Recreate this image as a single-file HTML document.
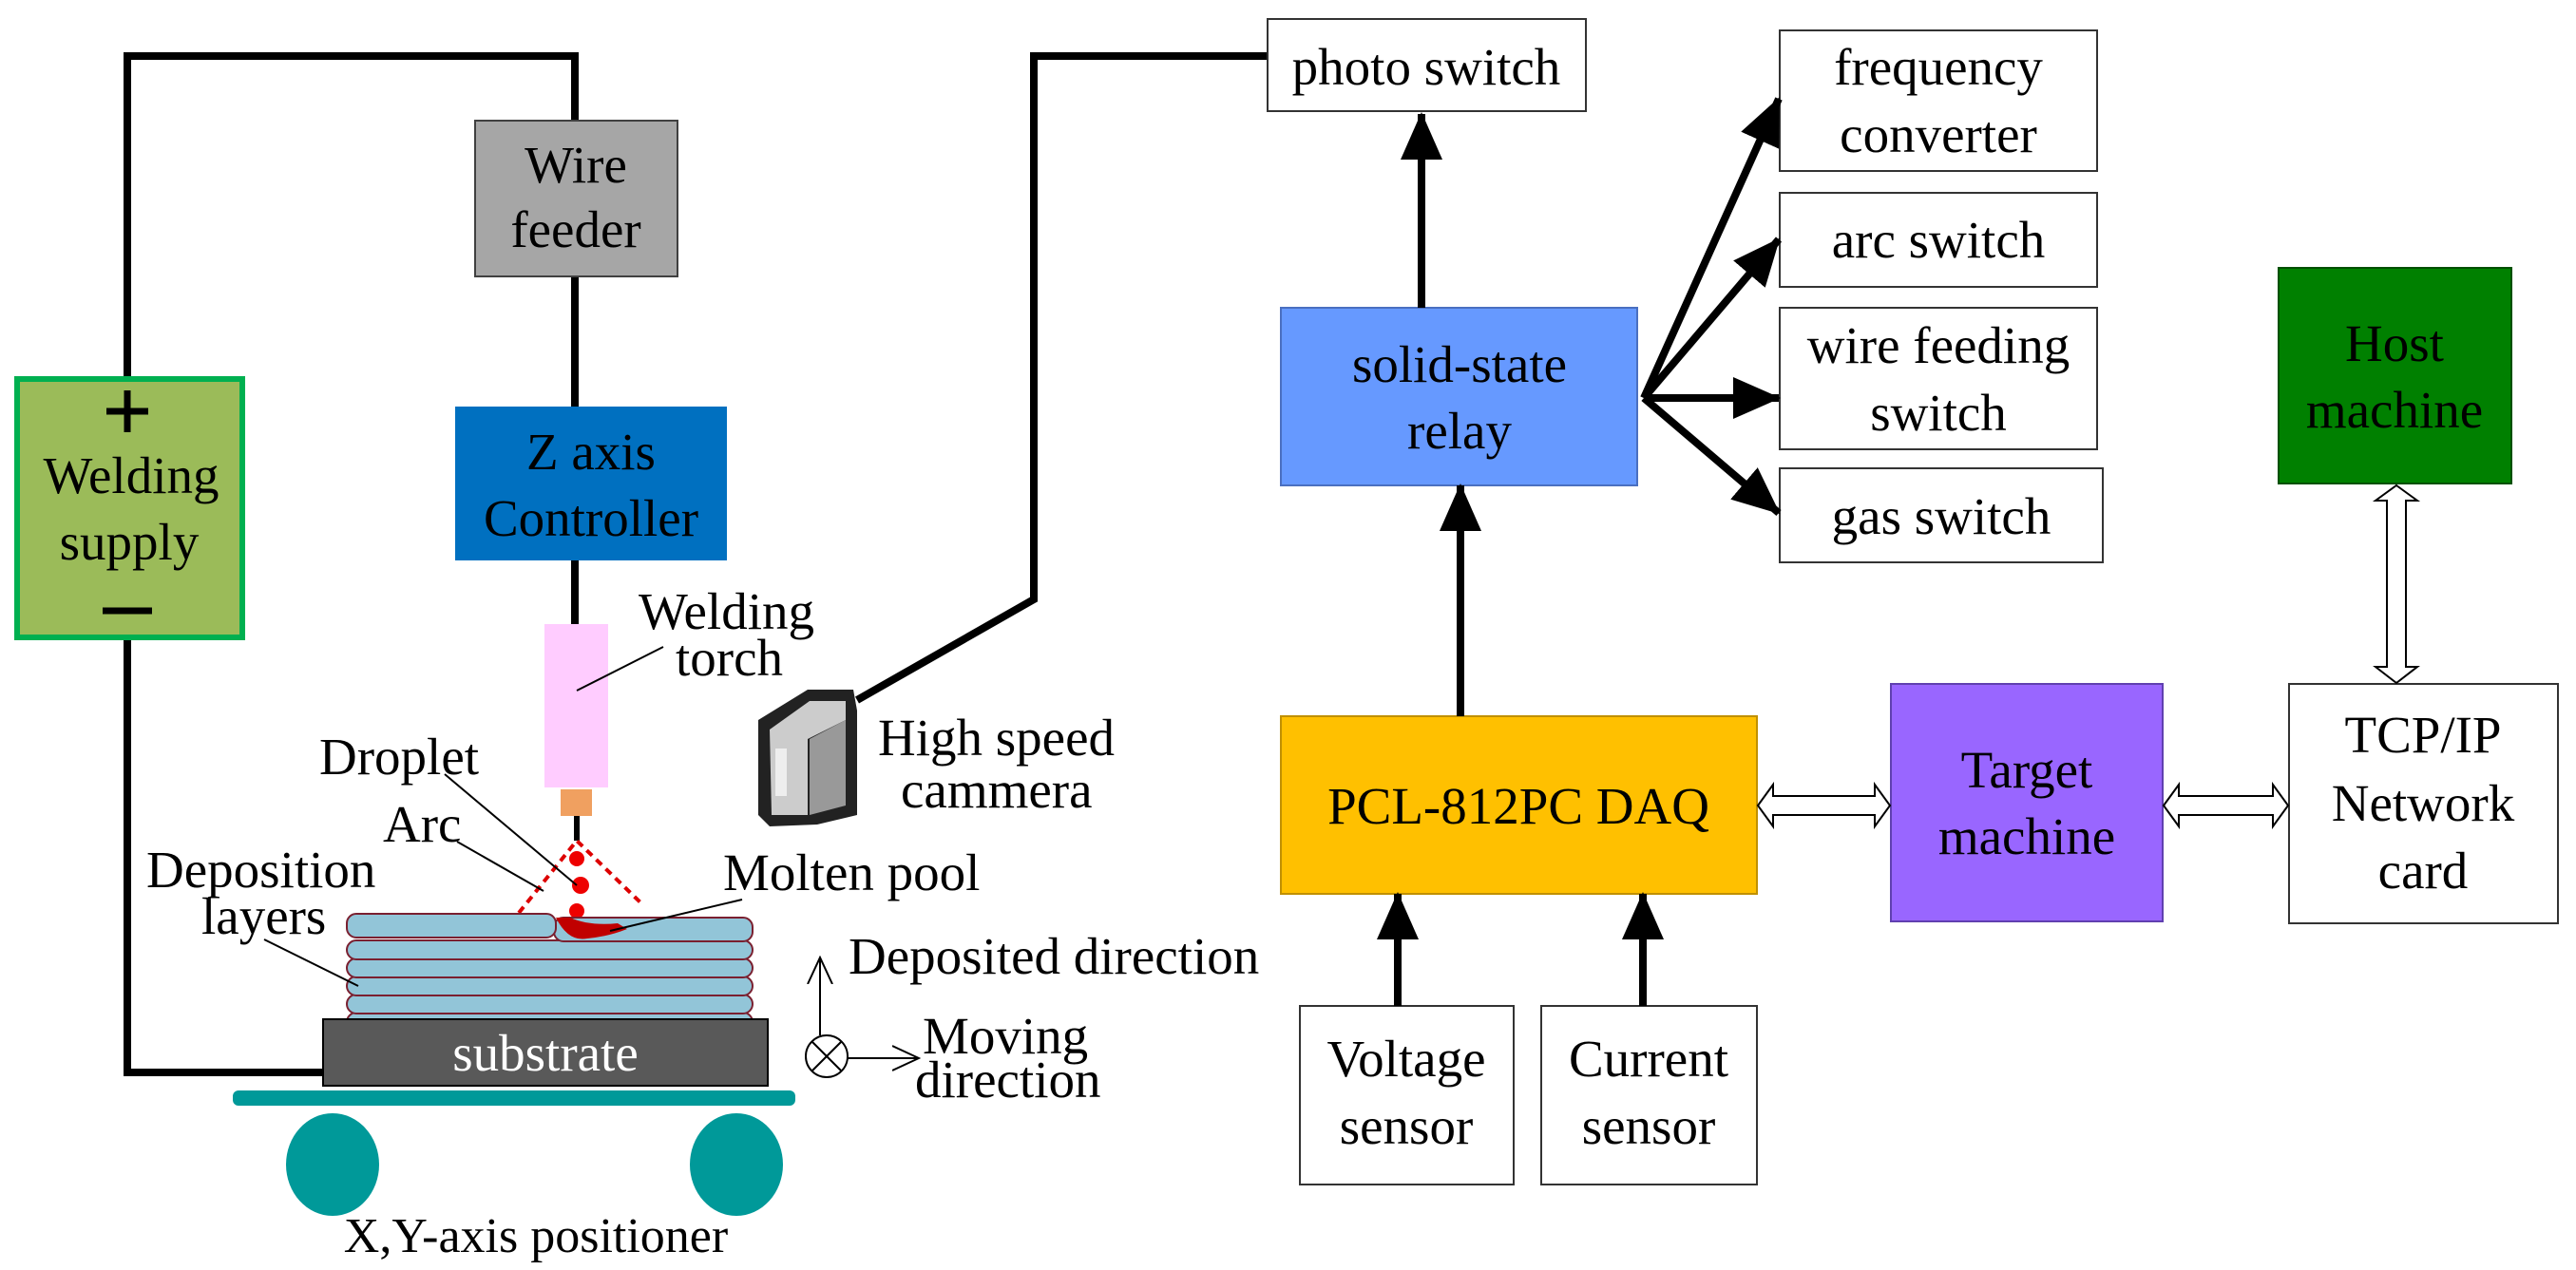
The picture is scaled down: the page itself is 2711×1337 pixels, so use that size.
<!DOCTYPE html>
<html><head><meta charset="utf-8"><style>
html,body{margin:0;padding:0;background:#fff}
svg{display:block}
text{font-family:"Liberation Serif",serif;font-size:55px;fill:#000}
</style></head><body>
<svg width="2711" height="1337" viewBox="0 0 2711 1337" xmlns="http://www.w3.org/2000/svg">
<defs>
<marker id="ah" markerUnits="userSpaceOnUse" markerWidth="50" markerHeight="44" refX="48" refY="22" orient="auto">
<path d="M0,0 L50,22 L0,44 Z" fill="#000"/></marker>
<marker id="oa" markerUnits="userSpaceOnUse" markerWidth="30" markerHeight="30" refX="28" refY="15" orient="auto">
<path d="M0,2 L28,15 L0,28" fill="none" stroke="#000" stroke-width="2"/></marker>
</defs>

<polyline points="134,397 134,59 605,59 605,127" fill="none" stroke="#000" stroke-width="8"/>
<line x1="605" y1="291" x2="605" y2="428" stroke="#000" stroke-width="8"/>
<line x1="605" y1="590" x2="605" y2="657" stroke="#000" stroke-width="8"/>
<polyline points="134,673 134,1129 340,1129" fill="none" stroke="#000" stroke-width="8"/>
<polyline points="902,737 1088,631 1088,59 1336,59" fill="none" stroke="#000" stroke-width="8"/>

<rect x="500" y="127" width="213" height="164" fill="#a6a6a6" stroke="#404040" stroke-width="2"/>
<text x="606" y="192" text-anchor="middle">Wire</text>
<text x="606" y="260" text-anchor="middle">feeder</text>
<rect x="479" y="428" width="286" height="162" fill="#0070c0"/>
<text x="622" y="494" text-anchor="middle">Z axis</text>
<text x="622" y="564" text-anchor="middle">Controller</text>
<rect x="18" y="399" width="237" height="272" fill="#9bbb59" stroke="#00b050" stroke-width="6"/>
<line x1="112" y1="433" x2="156" y2="433" stroke="#000" stroke-width="7"/>
<line x1="134" y1="411" x2="134" y2="455" stroke="#000" stroke-width="7"/>
<line x1="108" y1="643" x2="160" y2="643" stroke="#000" stroke-width="7"/>
<text x="138" y="519" text-anchor="middle">Welding</text>
<text x="136" y="589" text-anchor="middle">supply</text>

<rect x="573" y="657" width="67" height="172" fill="#ffccff"/>
<rect x="590" y="831" width="33" height="28" fill="#f0a060"/>
<line x1="607" y1="859" x2="607" y2="885" stroke="#000" stroke-width="6"/>
<polyline points="546,961 607,885 676,952" fill="none" stroke="#d00" stroke-width="4" stroke-dasharray="8,6"/>
<circle cx="607" cy="904" r="8" fill="#e00"/>
<circle cx="611" cy="932" r="9" fill="#e00"/>
<circle cx="607" cy="959" r="8" fill="#e00"/>

<g fill="#92c5d8" stroke="#7a2030" stroke-width="2">
<rect x="365" y="1066" width="427" height="20" rx="10"/>
<rect x="365" y="1047" width="427" height="20" rx="10"/>
<rect x="365" y="1028" width="427" height="20" rx="10"/>
<rect x="365" y="1009" width="427" height="20" rx="10"/>
<rect x="365" y="990" width="427" height="20" rx="10"/>
<rect x="583" y="966" width="209" height="25" rx="10"/>
<rect x="365" y="962" width="220" height="25" rx="10"/>
</g>
<path d="M585,966 Q598,992 618,988 Q640,986 660,978 L650,972 Q620,975 600,966 Z" fill="#c00000"/>
<rect x="340" y="1073" width="468" height="70" fill="#595959" stroke="#000" stroke-width="2"/>
<text x="574" y="1127" text-anchor="middle" style="fill:#fff">substrate</text>
<rect x="245" y="1148" width="592" height="16" rx="6" fill="#009999"/>
<ellipse cx="350" cy="1226" rx="49" ry="54" fill="#009999"/>
<ellipse cx="775" cy="1226" rx="49" ry="54" fill="#009999"/>
<text x="564" y="1318" text-anchor="middle" style="font-size:52px">X,Y-axis positioner</text>

<g stroke="#000" stroke-width="2">
<line x1="607" y1="727" x2="698" y2="681"/>
<line x1="468" y1="815" x2="607" y2="932"/>
<line x1="481" y1="886" x2="572" y2="938"/>
<line x1="278" y1="989" x2="377" y2="1038"/>
<line x1="781" y1="947" x2="642" y2="980"/>
</g>
<text x="672" y="662">Welding</text>
<text x="711" y="711">torch</text>
<text x="336" y="815">Droplet</text>
<text x="403" y="886">Arc</text>
<text x="154" y="934">Deposition</text>
<text x="212" y="983">layers</text>
<text x="761" y="937">Molten pool</text>

<line x1="863" y1="1090" x2="863" y2="1008" stroke="#000" stroke-width="2" marker-end="url(#oa)"/>
<circle cx="870" cy="1112" r="22" fill="none" stroke="#000" stroke-width="2"/>
<line x1="855" y1="1097" x2="885" y2="1127" stroke="#000" stroke-width="2"/>
<line x1="885" y1="1097" x2="855" y2="1127" stroke="#000" stroke-width="2"/>
<line x1="892" y1="1114" x2="967" y2="1114" stroke="#000" stroke-width="2" marker-end="url(#oa)"/>
<text x="893" y="1025">Deposited direction</text>
<text x="971" y="1109">Moving</text>
<text x="963" y="1155">direction</text>

<g transform="translate(790,718)">
<path d="M8,40 L60,8 L108,8 L112,30 L112,140 L70,150 L20,152 L8,140 Z" fill="#222"/>
<path d="M20,50 L62,20 L100,20 L100,40 L60,60 L60,140 L22,140 Z" fill="#ccc"/>
<path d="M62,60 L100,40 L100,130 L62,140 Z" fill="#999"/>
<rect x="26" y="70" width="12" height="50" fill="#eee"/>
</g>
<text x="924" y="795">High speed</text>
<text x="948" y="850">cammera</text>

<g fill="#fff" stroke="#333" stroke-width="2">
<rect x="1334" y="20" width="335" height="97"/>
<rect x="1873" y="32" width="334" height="148"/>
<rect x="1873" y="203" width="334" height="99"/>
<rect x="1873" y="324" width="334" height="149"/>
<rect x="1873" y="493" width="340" height="99"/>
<rect x="2409" y="720" width="283" height="252"/>
<rect x="1368" y="1059" width="225" height="188"/>
<rect x="1622" y="1059" width="227" height="188"/>
</g>
<rect x="1348" y="324" width="375" height="187" fill="#6699ff" stroke="#4a6fc0" stroke-width="2"/>
<rect x="1348" y="754" width="501" height="187" fill="#ffc000" stroke="#c09000" stroke-width="2"/>
<rect x="1990" y="720" width="286" height="250" fill="#9966ff" stroke="#6040b0" stroke-width="2"/>
<rect x="2398" y="282" width="245" height="227" fill="#008000" stroke="#005000" stroke-width="2"/>

<text x="1501" y="89" text-anchor="middle">photo switch</text>
<text x="2040" y="89" text-anchor="middle">frequency</text>
<text x="2040" y="160" text-anchor="middle">converter</text>
<text x="2040" y="271" text-anchor="middle">arc switch</text>
<text x="2040" y="382" text-anchor="middle">wire feeding</text>
<text x="2040" y="453" text-anchor="middle">switch</text>
<text x="2043" y="562" text-anchor="middle">gas switch</text>
<text x="1536" y="402" text-anchor="middle">solid-state</text>
<text x="1536" y="472" text-anchor="middle">relay</text>
<text x="1598" y="867" text-anchor="middle">PCL-812PC DAQ</text>
<text x="2133" y="829" text-anchor="middle">Target</text>
<text x="2133" y="899" text-anchor="middle">machine</text>
<text x="2520" y="380" text-anchor="middle">Host</text>
<text x="2520" y="450" text-anchor="middle">machine</text>
<text x="2550" y="792" text-anchor="middle">TCP/IP</text>
<text x="2550" y="864" text-anchor="middle">Network</text>
<text x="2550" y="935" text-anchor="middle">card</text>
<text x="1480" y="1133" text-anchor="middle">Voltage</text>
<text x="1480" y="1204" text-anchor="middle">sensor</text>
<text x="1735" y="1133" text-anchor="middle">Current</text>
<text x="1735" y="1204" text-anchor="middle">sensor</text>

<g stroke="#000" stroke-width="8" marker-end="url(#ah)">
<line x1="1496" y1="324" x2="1496" y2="120"/>
<line x1="1537" y1="754" x2="1537" y2="511"/>
<line x1="1730" y1="419" x2="1872" y2="104"/>
<line x1="1730" y1="419" x2="1872" y2="252"/>
<line x1="1730" y1="419" x2="1872" y2="419"/>
<line x1="1730" y1="419" x2="1872" y2="540"/>
<line x1="1471" y1="1059" x2="1471" y2="941"/>
<line x1="1729" y1="1059" x2="1729" y2="941"/>
</g>

<g fill="#fff" stroke="#000" stroke-width="2">
<path d="M1850,848 L1866,826 L1866,838 L1973,838 L1973,826 L1989,848 L1973,870 L1973,858 L1866,858 L1866,870 Z"/>
<path d="M2277,848 L2293,826 L2293,838 L2392,838 L2392,826 L2408,848 L2392,870 L2392,858 L2293,858 L2293,870 Z"/>
<path d="M2522,511 L2544,527 L2532,527 L2532,702 L2544,702 L2522,719 L2500,702 L2512,702 L2512,527 L2500,527 Z"/>
</g>
</svg>
</body></html>
